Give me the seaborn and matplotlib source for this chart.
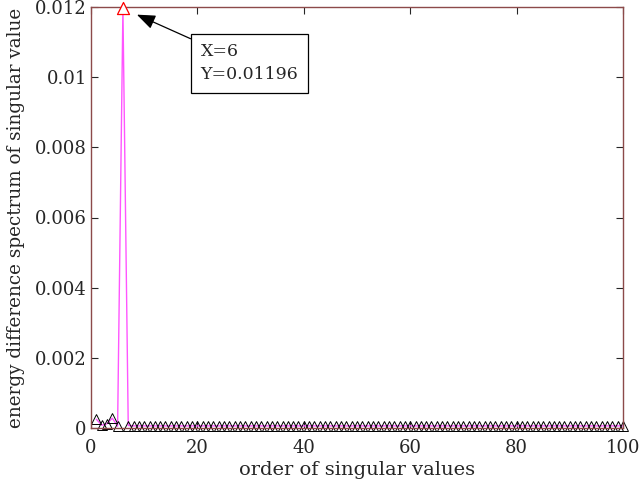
import matplotlib
matplotlib.use("Agg")
import matplotlib.pyplot as plt
import seaborn as sns
import pandas as pd

# order of singular values and their energy difference spectrum
orders = list(range(1, 101))
energy_diff = [
    0.00025, 0.00008, 0.00012, 0.00028, 0.00005, 0.01196, 0.00007, 0.00006, 0.00006, 0.00006,
    0.00006, 0.00006, 0.00006, 0.00006, 0.00006, 0.00006, 0.00006, 0.00006, 0.00006, 0.00006,
    0.00006, 0.00006, 0.00006, 0.00006, 0.00006, 0.00006, 0.00006, 0.00006, 0.00006, 0.00006,
    0.00006, 0.00006, 0.00006, 0.00006, 0.00006, 0.00006, 0.00006, 0.00006, 0.00006, 0.00006,
    0.00006, 0.00006, 0.00006, 0.00006, 0.00006, 0.00006, 0.00006, 0.00006, 0.00006, 0.00006,
    0.00006, 0.00006, 0.00006, 0.00006, 0.00006, 0.00006, 0.00006, 0.00006, 0.00006, 0.00006,
    0.00006, 0.00006, 0.00006, 0.00006, 0.00006, 0.00006, 0.00006, 0.00006, 0.00006, 0.00006,
    0.00006, 0.00006, 0.00006, 0.00006, 0.00006, 0.00006, 0.00006, 0.00006, 0.00006, 0.00006,
    0.00006, 0.00006, 0.00006, 0.00006, 0.00006, 0.00006, 0.00006, 0.00006, 0.00006, 0.00006,
    0.00006, 0.00006, 0.00006, 0.00006, 0.00006, 0.00006, 0.00006, 0.00006, 0.00006, 0.00006,
]
peak_order = 6
peak_value = 0.01196

x_ticks = [0, 20, 40, 60, 80, 100]
y_ticks = [0, 0.002, 0.004, 0.006, 0.008, 0.010, 0.012]
y_tick_labels = ["0", "0.002", "0.004", "0.006", "0.008", "0.01", "0.012"]

sns.set_style("white")
plt.rcParams["font.family"] = ["DejaVu Serif"]
plt.rcParams["font.size"] = 13

df = pd.DataFrame({"order": orders, "energy": energy_diff})

fig = plt.figure(figsize=(6.43, 4.82), dpi=100)
ax = fig.add_axes([91 / 643, 1 - 428 / 482, 532 / 643, 421 / 482])

sns.lineplot(data=df, x="order", y="energy", ax=ax, color="#FF55FF", linewidth=1.0,
             marker="^", markersize=7.5, markerfacecolor="none",
             markeredgecolor="black", markeredgewidth=0.7, clip_on=False)

peak_df = pd.DataFrame({"order": [peak_order], "energy": [peak_value]})
sns.scatterplot(data=peak_df, x="order", y="energy", ax=ax, marker="^", s=75,
                facecolors="white", edgecolors="red", linewidths=0.9, zorder=5,
                clip_on=False)

ax.annotate(f"X={peak_order}\nY={peak_value}", xy=(peak_order, peak_value),
            xytext=(20.6, 0.0104), textcoords="data", ha="left", va="center",
            fontsize=12.5, color="#262626", linespacing=1.45,
            bbox=dict(boxstyle="square,pad=0.55", fc="white", ec="black", lw=0.9),
            arrowprops=dict(arrowstyle="-|>,head_length=0.9,head_width=0.35",
                            color="black", lw=0.9, relpos=(0, 1),
                            shrinkA=0, shrinkB=11))

ax.set_xlim(0, 100)
ax.set_ylim(0, 0.012)
ax.set_xticks(x_ticks)
ax.set_yticks(y_ticks)
ax.set_yticklabels(y_tick_labels)
ax.set_xlabel("order of singular values", color="#262626", fontsize=14, labelpad=3)
ax.set_ylabel("energy difference spectrum of singular value", color="#262626",
              fontsize=13.2, labelpad=7)

for side in ["left", "right", "top", "bottom"]:
    ax.spines[side].set_visible(True)
    ax.spines[side].set_color("#8C4A4A")
    ax.spines[side].set_linewidth(1.0)

ax.tick_params(axis="both", which="both", direction="in", length=5, width=0.8,
               color="#262626", labelcolor="#262626", top=True, right=True,
               bottom=True, left=True, labelsize=13)
ax.tick_params(axis="x", pad=8)
ax.tick_params(axis="y", pad=3)

fig.savefig("out.png", dpi=100)
